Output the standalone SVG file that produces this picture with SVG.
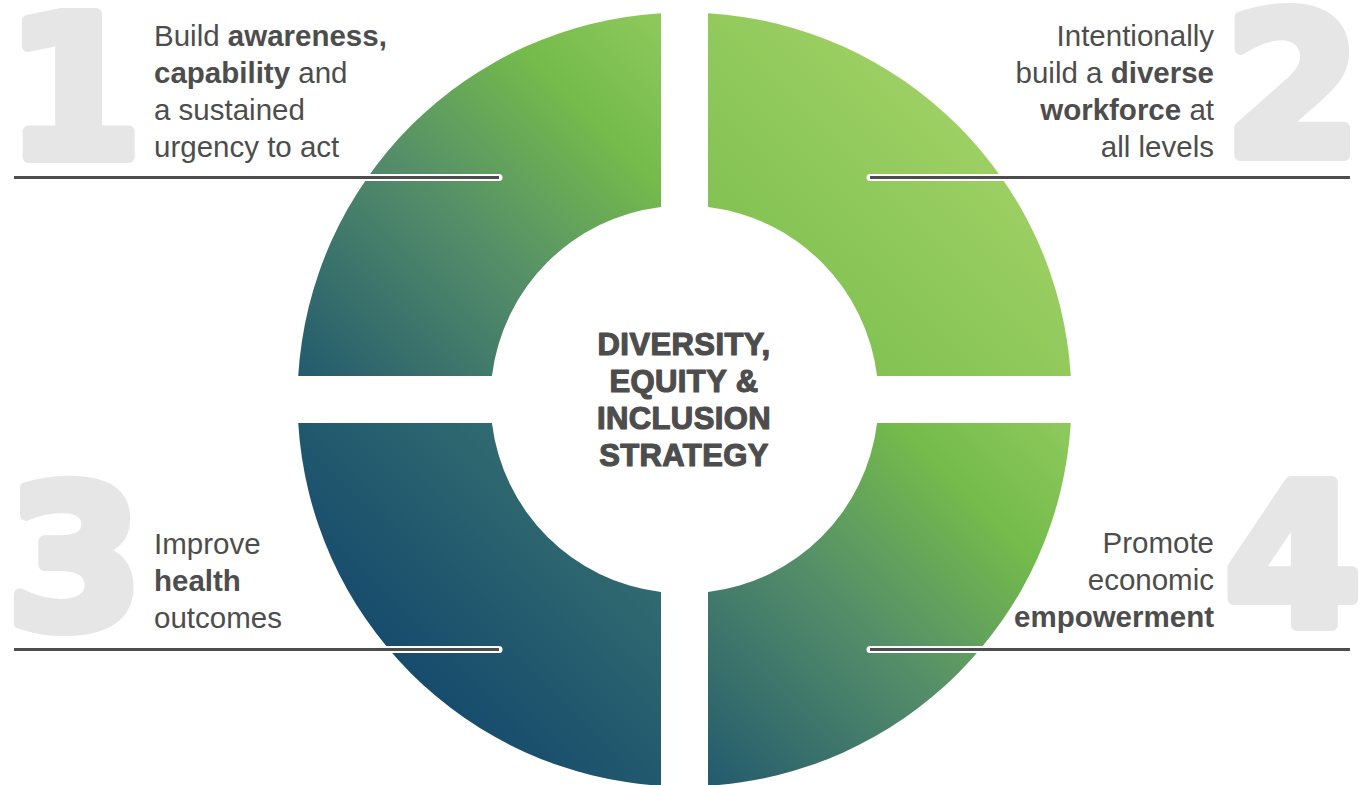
<svg xmlns="http://www.w3.org/2000/svg" width="1366" height="785" viewBox="0 0 1366 785">
<defs>
<style>
.num{font-family:"DejaVu Sans","Liberation Sans",sans-serif;font-weight:bold;font-size:196px;fill:#e6e6e6;stroke:#e6e6e6;stroke-width:12;stroke-linejoin:round}
.body{font-family:"Liberation Sans","Arial",sans-serif;font-size:29.5px;fill:#4d4d4d}
.b{font-weight:bold}
.ctr{font-family:"Liberation Sans","Arial",sans-serif;font-size:31px;font-weight:bold;fill:#4d4d4d;stroke:#4d4d4d;stroke-width:1.2;stroke-linejoin:round;letter-spacing:0.4px;text-anchor:middle}
.halo{stroke:#ffffff;stroke-width:7;stroke-linecap:round;fill:none}
.ln{stroke:#4d4d4d;stroke-width:3;fill:none}
</style>
<linearGradient id="gTL" gradientUnits="userSpaceOnUse" x1="298" y1="376" x2="661" y2="13">
<stop offset="0" stop-color="#235a6e"/><stop offset="0.45" stop-color="#569068"/><stop offset="0.76" stop-color="#74bb4b"/><stop offset="1" stop-color="#8fc95c"/>
</linearGradient>
<linearGradient id="gTR" gradientUnits="userSpaceOnUse" x1="708" y1="376" x2="1071" y2="13">
<stop offset="0" stop-color="#74bb4a"/><stop offset="1" stop-color="#b0d96f"/>
</linearGradient>
<linearGradient id="gBL" gradientUnits="userSpaceOnUse" x1="298" y1="785" x2="661" y2="423">
<stop offset="0" stop-color="#134569"/><stop offset="0.3" stop-color="#164b6c"/><stop offset="1" stop-color="#3f7a72"/>
</linearGradient>
<linearGradient id="gBR" gradientUnits="userSpaceOnUse" x1="708" y1="785" x2="1071" y2="423">
<stop offset="0" stop-color="#235a6e"/><stop offset="0.45" stop-color="#569068"/><stop offset="0.76" stop-color="#74bb4b"/><stop offset="1" stop-color="#8fc95c"/>
</linearGradient>
</defs>
<rect width="1366" height="785" fill="#ffffff"/>
<g id="numbers">
<text class="num" x="74" y="157" text-anchor="middle">1</text>
<text class="num" x="1293" y="155" text-anchor="middle">2</text>
<text class="num" x="75" y="627" text-anchor="middle">3</text>
<text class="num" x="1293" y="625" text-anchor="middle">4</text>
</g>
<g id="q1"><path d="M298.21,376 A387,387 0 0 1 661,13.21 L661,206.93 A194,194 0 0 0 491.93,376 Z" fill="url(#gTL)"/></g>
<g id="q2"><path d="M708,13.21 A387,387 0 0 1 1070.79,376 L877.07,376 A194,194 0 0 0 708,206.93 Z" fill="url(#gTR)"/></g>
<g id="q3"><path d="M661,785.79 A387,387 0 0 1 298.21,423 L491.93,423 A194,194 0 0 0 661,592.07 Z" fill="url(#gBL)"/></g>
<g id="q4"><path d="M1070.79,423 A387,387 0 0 1 708,785.79 L708,592.07 A194,194 0 0 0 877.07,423 Z" fill="url(#gBR)"/></g>
<g id="connectors">
<line class="halo" x1="300" y1="177.5" x2="499" y2="177.5"/>
<line class="ln" x1="14" y1="177.5" x2="499" y2="177.5"/>
<line class="halo" x1="870" y1="177.5" x2="1060" y2="177.5"/>
<line class="ln" x1="870" y1="177.5" x2="1350" y2="177.5"/>
<line class="halo" x1="300" y1="649.5" x2="499" y2="649.5"/>
<line class="ln" x1="14" y1="649.5" x2="499" y2="649.5"/>
<line class="halo" x1="870" y1="649.5" x2="1060" y2="649.5"/>
<line class="ln" x1="870" y1="649.5" x2="1350" y2="649.5"/>
</g>
<g id="label1">
<text class="body" x="154" y="46">Build <tspan class="b">awareness,</tspan></text>
<text class="body" x="154" y="83"><tspan class="b">capability</tspan> and</text>
<text class="body" x="154" y="120">a sustained</text>
<text class="body" x="154" y="157">urgency to act</text>
</g>
<g id="label2" text-anchor="end">
<text class="body" x="1214" y="46">Intentionally</text>
<text class="body" x="1214" y="83">build a <tspan class="b">diverse</tspan></text>
<text class="body" x="1214" y="120"><tspan class="b">workforce</tspan> at</text>
<text class="body" x="1214" y="157">all levels</text>
</g>
<g id="label3">
<text class="body" x="154" y="554">Improve</text>
<text class="body b" x="154" y="591">health</text>
<text class="body" x="154" y="628">outcomes</text>
</g>
<g id="label4" text-anchor="end">
<text class="body" x="1214" y="553">Promote</text>
<text class="body" x="1214" y="590">economic</text>
<text class="body b" x="1214" y="627">empowerment</text>
</g>
<g id="center">
<text class="ctr" x="684" y="355">DIVERSITY,</text>
<text class="ctr" x="684" y="392">EQUITY &amp;</text>
<text class="ctr" x="684" y="429">INCLUSION</text>
<text class="ctr" x="684" y="466">STRATEGY</text>
</g>
</svg>
